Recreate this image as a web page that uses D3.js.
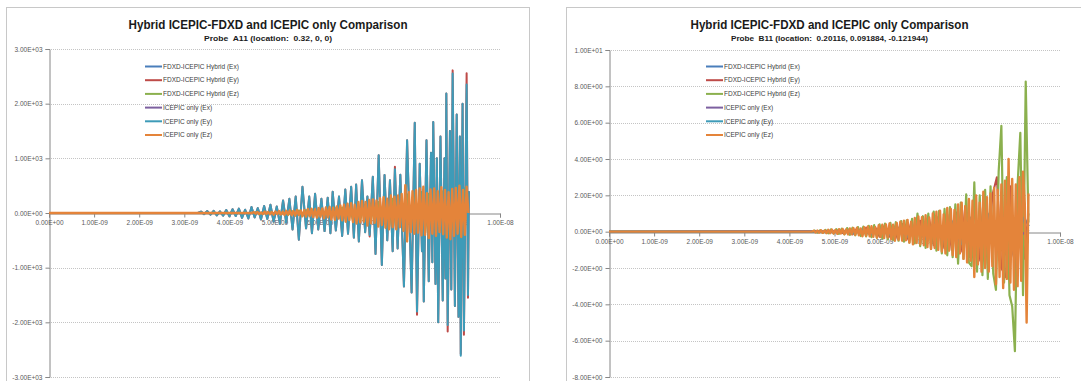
<!DOCTYPE html>
<html><head><meta charset="utf-8">
<script src="https://cdn.jsdelivr.net/npm/d3@7"></script>
<style>
html,body{margin:0;padding:0;background:#fff;}
svg text{font-family:"Liberation Sans",Arial,sans-serif;}
</style></head><body>
<svg id="chart" width="1081" height="381"></svg>
<script>
// ---------------- DATA (times in ns) ----------------
const seriesNames = ["FDXD-ICEPIC Hybrid (Ex)", "FDXD-ICEPIC Hybrid (Ey)", "FDXD-ICEPIC Hybrid (Ez)",
                     "ICEPIC only (Ex)", "ICEPIC only (Ey)", "ICEPIC only (Ez)"];
const chartTitle = "Hybrid ICEPIC-FDXD and ICEPIC only Comparison";
const subtitleA = "Probe  A11 (location:  0.32, 0, 0)";
const subtitleB = "Probe  B11 (location:  0.20116, 0.091884, -0.121944)";
const xTickValues = [0, 1e-9, 2e-9, 3e-9, 4e-9, 5e-9, 6e-9, 7e-9, 8e-9, 9e-9, 1e-8];
const yTicksA = [-3000, -2000, -1000, 0, 1000, 2000, 3000];
const yTicksB = [-8, -6, -4, -2, 0, 2, 4, 6, 8, 10];

// ---- Probe A11 ----
const a11ExTimes = [0, 5, 6, 7, 8, 9, 9.31];
const a11HybridEx = [0, 2, -3, 5, -8, 10, 0];
const a11IcepicEx = [0, 1, -2, 4, -6, 8, 0];

const a11EyTimes = [
  0, 3.30, 3.37, 3.44, 3.51, 3.58, 3.65, 3.72, 3.79, 3.86,
  3.93, 4.00, 4.07, 4.14, 4.21, 4.28, 4.35, 4.42, 4.49, 4.56,
  4.63, 4.70, 4.77, 4.84, 4.91, 4.98, 5.05, 5.12, 5.19, 5.26,
  5.33, 5.40, 5.47, 5.54, 5.62, 5.70, 5.77, 5.83, 5.90, 5.97,
  6.04, 6.11, 6.18, 6.24, 6.29, 6.36, 6.43, 6.50, 6.57, 6.63,
  6.70, 6.76, 6.81, 6.87, 6.94, 7.01, 7.06, 7.11, 7.18, 7.24,
  7.31, 7.38, 7.44, 7.50, 7.56, 7.62, 7.67, 7.73, 7.79, 7.87,
  7.94, 8.04, 8.11, 8.16, 8.22, 8.27, 8.29, 8.31, 8.37, 8.42,
  8.47, 8.50, 8.52, 8.57, 8.60, 8.63, 8.68, 8.73, 8.77, 8.79,
  8.81, 8.84, 8.89, 8.92, 8.95, 9.00, 9.04, 9.08, 9.11, 9.13,
  9.17, 9.20, 9.26, 9.29, 9.31];
const a11IcepicEy = [
  0, 0, 25, -20, 35, -30, 40, -45, 30, -50,
  55, -60, 70, -55, 80, -90, 60, -100, 110, -80,
  90, -120, 130, -110, 150, -160, 120, -200, 230, -180,
  260, -300, 300, -490, 480, -280, 300, -370, 350, -300,
  260, -330, 280, -370, 390, -320, 300, -420, 430, -380,
  480, -450, 520, -520, 600, -350, 300, -401, 662, -748,
  1058, -949, 693, -500, 600, -700, 800, -650, 700, -1344,
  1332, -1454, 1650, -1800, 900, -700, 400, -1618, 1332, -1250,
  1100, -900, 1666, -1300, 1000, -2000, 1400, -1600, 1000, -1200,
  2185, -2050, 1500, -1400, 2550, -1700, 1800, -1900, 1400, -2610,
  2000, -2150, 2350, -1500, 400];
const a11HybridEy = [
  0, 0, 25, -20, 35, -30, 40, -45, 30, -50,
  55, -60, 70, -55, 80, -90, 60, -100, 110, -80,
  90, -120, 130, -110, 150, -160, 120, -200, 230, -180,
  260, -300, 300, -490, 480, -280, 300, -370, 350, -300,
  260, -330, 280, -370, 390, -320, 300, -420, 430, -380,
  480, -450, 520, -520, 600, -350, 300, -430, 662, -748,
  1058, -949, 693, -500, 600, -700, 845, -650, 700, -1344,
  1332, -1454, 1650, -1861, 900, -700, 400, -1618, 1332, -1250,
  1100, -900, 1666, -1300, 1000, -2000, 1400, -1600, 1000, -1200,
  2185, -2166, 1500, -1400, 2609, -1700, 1800, -1900, 1400, -2580,
  2000, -2226, 2555, -1550, 400];

const a11HybridEzStart = 4.5, a11HybridEzStep = 0.08;
const a11HybridEz = [
  0, 10, -12, 15, -18, 20, -22, 25, -28, 30,
  -35, 38, -40, 45, -48, 50, -55, 60, -62, 68,
  -70, 75, -80, 90, -95, 100, -110, 120, -125, 130,
  -140, 150, -160, 170, -180, 200, -210, 230, -250, 260,
  -280, 300, -320, 340, -300, 360, -340, 380, -360, 350,
  -330, 380, -310, 400, -360, 380, -340, 350, -300, 450,
  0];
const a11IcepicEzStart = 4.5, a11IcepicEzStep = 0.04;
const a11IcepicEz = [
  0, 15, -12, 20, -18, 10, -22, 25, -15, 20,
  -25, 18, -30, 28, -20, 35, -28, 22, -35, 40,
  -30, 45, -40, 35, -50, 55, -38, 48, -60, 50,
  -65, 75, -55, 80, -72, 68, -85, 90, -70, 82,
  -95, 100, -80, 110, -120, 95, -125, 120, -100, 140,
  -135, 150, -160, 170, -130, 180, -165, 150, -190, 200,
  -170, 220, -160, 200, -230, 240, -190, 250, -180, 230,
  -250, 270, -220, 290, -270, 260, -300, 320, -260, 300,
  -300, 320, -260, 350, -330, 510, -520, 380, -350, 400,
  -380, 420, -360, 450, -410, 480, -400, 360, -460, 430,
  -380, 450, -420, 400, -350, 470, -390, 420, -450, 380,
  -480, 440, -420, 460, -380, 500, -440, 420, -400, 480,
  0];

// ---- Probe B11 ----
const b11HybridExTimes = [0, 6, 7, 8, 8.5, 8.9, 9.2, 9.31];
const b11HybridEx = [0, 0.05, -0.1, 0.2, -0.5, -1.5, 0.8, 0.3];
const b11IcepicExTimes = [0, 6, 7, 8, 9, 9.31];
const b11IcepicEx = [0, 0.03, -0.08, 0.15, -0.4, 0.1];

const b11HybridEyStart = 5.0, b11HybridEyStep = 0.1;
const b11HybridEy = [
  0, 0.08, -0.1, 0.12, -0.15, 0.18, -0.2, 0.22, -0.24, 0.26,
  -0.28, 0.3, -0.32, 0.35, -0.38, 0.42, -0.45, 0.5, -0.55, 0.6,
  -0.65, 0.7, -0.75, 0.8, -0.9, 0.95, -1.0, 1.05, -1.1, 1.4,
  -1.4, 1.5, -1.6, 1.6, -1.8, 2.0, 3.0, -2.0, -2.5, 2.5,
  -2.5, 2.0, -1.5, 1.0];
const b11IcepicEyStart = 5.0, b11IcepicEyStep = 0.2;
const b11IcepicEy = [
  0, 0.06, -0.1, 0.12, -0.15, 0.18, -0.2, 0.25, -0.3, 0.35,
  -0.4, 0.5, -0.55, 0.6, -0.7, 0.8, -0.9, 1.0, -1.1, 1.2,
  -1.0, 0.8];

const b11HybridEzStart = 4.5, b11HybridEzStep = 0.06;
const b11HybridEz = [
  0, 0.06, -0.05, 0.08, -0.07, 0.1, -0.09, 0.12, -0.1, 0.14,
  -0.12, 0.16, -0.15, 0.2, -0.18, 0.22, -0.2, 0.25, -0.24, 0.28,
  -0.26, 0.32, -0.3, 0.36, -0.34, 0.4, -0.38, 0.44, -0.42, 0.48,
  -0.45, 0.52, -0.5, 0.58, -0.55, 0.62, -0.6, 0.7, -0.65, 0.99,
  -0.8, 0.85, -0.9, 1.0, -0.95, 1.1, -1.05, 1.15, -1.2, 1.25,
  -1.3, 1.35, -1.4, 1.5, -1.76, 1.6, -1.5, 2.05, -1.7, -1.9,
  2.71, -2.2, 2.0, -2.4, 2.3, -2.6, 2.5, -2.3, -3.2, 3.31,
  5.82, -2.8, 3.0, -3.5, -4.1, -6.58, 2.6, 5.44, -3.5, 8.26,
  0.5];
const b11IcepicEzStart = 4.5, b11IcepicEzStep = 0.04;
const b11IcepicEz = [
  0, 0.05, -0.04, 0.06, -0.05, 0.08, -0.06, 0.07, -0.08, 0.1,
  -0.08, 0.12, -0.1, 0.09, -0.12, 0.14, -0.1, 0.15, -0.13, 0.12,
  -0.15, 0.18, -0.14, 0.2, -0.17, 0.22, -0.2, 0.18, -0.25, 0.24,
  -0.22, 0.28, -0.25, 0.3, -0.28, 0.25, -0.32, 0.35, -0.3, 0.38,
  -0.35, 0.4, -0.32, 0.45, -0.42, 0.38, -0.5, 0.48, -0.45, 0.55,
  -0.5, 0.6, -0.48, 0.65, -0.6, 0.55, -0.7, 0.75, -0.62, 0.84,
  -0.7, 0.8, -0.75, 0.9, -0.85, 0.78, -0.95, 1.0, -0.9, 1.1,
  -1.0, 1.15, -1.1, 0.95, -1.2, 1.3, -1.05, 1.25, -1.3, 1.2,
  -1.4, 1.5, -1.2, 1.6, -1.5, 1.4, -1.7, 1.8, -1.6, 1.7,
  -2.5, 2.0, -1.8, 1.6, -2.2, 2.2, -2.0, 1.9, -2.2, 2.1,
  -1.9, 2.4, -2.9, 2.3, -2.5, 2.6, -3.1, 2.8, -2.6, 4.0,
  -2.8, 2.9, -3.2, 2.6, -3.0, 3.0, -2.7, 3.3, 1.5, -5.0,
  2.1];

// ---------------- STYLE / LAYOUT ----------------
const seriesColors = ["#4A7EBB", "#BE4B48", "#8BB04E", "#7D60A0", "#3E9BB8", "#E4843A"];
const seriesWidths = [2, 2, 2.2, 2, 2, 2.4];

function gridPoints(start, step, values) {
  // sampled series: flat zero from t=0 until the first sample
  const pts = [[0, 0]];
  values.forEach((v, i) => pts.push([start + i * step, v]));
  return pts;
}
function zipPoints(times, values) { return times.map((t, i) => [t, values[i]]); }

function excelExp(v) {
  const s = v.toExponential(2);
  const [m, e] = s.split("e");
  const sign = e[0] === "-" ? "-" : "+";
  let d = e.replace(/[+-]/, "");
  if (d.length < 2) d = "0" + d;
  return m + "E" + sign + d;
}

const panels = [
  {
    frame: [6.5, 7.5, 523, 400], xRange: [49, 500], yRange: [377, 49],
    yDomain: [-3000, 3000], yTicks: yTicksA, cx: 268, titleLen: 279,
    subtitle: subtitleA, subLen: 128, legendX: 145,
    series: [
      zipPoints(a11ExTimes, a11HybridEx),
      zipPoints(a11EyTimes, a11HybridEy),
      gridPoints(a11HybridEzStart, a11HybridEzStep, a11HybridEz),
      zipPoints(a11ExTimes, a11IcepicEx),
      zipPoints(a11EyTimes, a11IcepicEy),
      gridPoints(a11IcepicEzStart, a11IcepicEzStep, a11IcepicEz)
    ]
  },
  {
    frame: [566.5, 7.5, 527, 400], xRange: [609, 1060], yRange: [377, 50],
    yDomain: [-8, 10], yTicks: yTicksB, cx: 829.5, titleLen: 278,
    subtitle: subtitleB, subLen: 197, legendX: 706,
    series: [
      zipPoints(b11HybridExTimes, b11HybridEx),
      gridPoints(b11HybridEyStart, b11HybridEyStep, b11HybridEy),
      gridPoints(b11HybridEzStart, b11HybridEzStep, b11HybridEz),
      zipPoints(b11IcepicExTimes, b11IcepicEx),
      gridPoints(b11IcepicEyStart, b11IcepicEyStep, b11IcepicEy),
      gridPoints(b11IcepicEzStart, b11IcepicEzStep, b11IcepicEz)
    ]
  }
];

const svg = d3.select("#chart");

panels.forEach(p => {
  const g = svg.append("g");
  g.append("rect").attr("x", p.frame[0]).attr("y", p.frame[1])
    .attr("width", p.frame[2]).attr("height", p.frame[3])
    .attr("fill", "#fff").attr("stroke", "#c8c8c8").attr("stroke-width", 1);

  const x = d3.scaleLinear().domain([0, 1e-8]).range(p.xRange);
  const y = d3.scaleLinear().domain(p.yDomain).range(p.yRange);
  const x0 = p.xRange[0], x1 = p.xRange[1], y0 = y(0);

  // gridlines
  g.append("g").selectAll("line").data(p.yTicks.filter(v => v !== 0)).join("line")
    .attr("x1", x0).attr("x2", x1)
    .attr("y1", d => Math.round(y(d)) + 0.5).attr("y2", d => Math.round(y(d)) + 0.5)
    .attr("stroke", "#c4c4c4").attr("stroke-width", 1).attr("stroke-dasharray", "1,1");

  // y axis
  const yAxis = d3.axisLeft(y).tickValues(p.yTicks).tickSize(4).tickFormat(excelExp);
  const ya = g.append("g").attr("transform", `translate(${Math.round(x0) + 0.5},0)`).call(yAxis);
  ya.select(".domain").attr("stroke", "#868686");
  ya.selectAll(".tick line").attr("stroke", "#868686");
  ya.selectAll(".tick text").attr("font-size", "6.5px").attr("fill", "#595959")
    .attr("x", -7).attr("font-family", '"Liberation Sans",Arial,sans-serif');

  // x axis at zero
  const xAxis = d3.axisBottom(x).tickValues(xTickValues).tickSize(4).tickFormat(excelExp);
  const xa = g.append("g").attr("transform", `translate(0,${Math.round(y0) + 0.5})`).call(xAxis);
  xa.select(".domain").attr("stroke", "#868686");
  xa.selectAll(".tick line").attr("stroke", "#868686");
  xa.selectAll(".tick text").attr("font-size", "6.5px").attr("fill", "#595959")
    .attr("y", 7).attr("font-family", '"Liberation Sans",Arial,sans-serif');

  // series
  const line = d3.line().x(d => x(d[0] * 1e-9)).y(d => y(d[1]));
  p.series.forEach((pts, i) => {
    g.append("path").datum(pts).attr("d", line).attr("fill", "none")
      .attr("stroke", seriesColors[i]).attr("stroke-width", seriesWidths[i])
      .attr("stroke-linejoin", "round");
  });

  // titles
  g.append("text").attr("x", p.cx).attr("y", 29).attr("text-anchor", "middle")
    .attr("font-size", "12.5px").attr("font-weight", "bold").attr("fill", "#1a1a1a")
    .attr("textLength", p.titleLen).attr("lengthAdjust", "spacingAndGlyphs")
    .text(chartTitle);
  g.append("text").attr("x", p.cx).attr("y", 40.5).attr("text-anchor", "middle")
    .attr("font-size", "7.6px").attr("font-weight", "bold").attr("fill", "#1a1a1a")
    .style("white-space", "pre")
    .attr("textLength", p.subLen).attr("lengthAdjust", "spacingAndGlyphs")
    .text(p.subtitle);

  // legend
  const lg = g.append("g");
  seriesNames.forEach((name, i) => {
    const ly = 66.5 + i * 13.7;
    lg.append("line").attr("x1", p.legendX).attr("x2", p.legendX + 17)
      .attr("y1", ly).attr("y2", ly).attr("stroke", seriesColors[i]).attr("stroke-width", 2);
    lg.append("text").attr("x", p.legendX + 18).attr("y", ly).attr("dy", "0.35em")
      .attr("font-size", "6.5px").attr("fill", "#404040").text(name);
  });
});
</script>
</body></html>
